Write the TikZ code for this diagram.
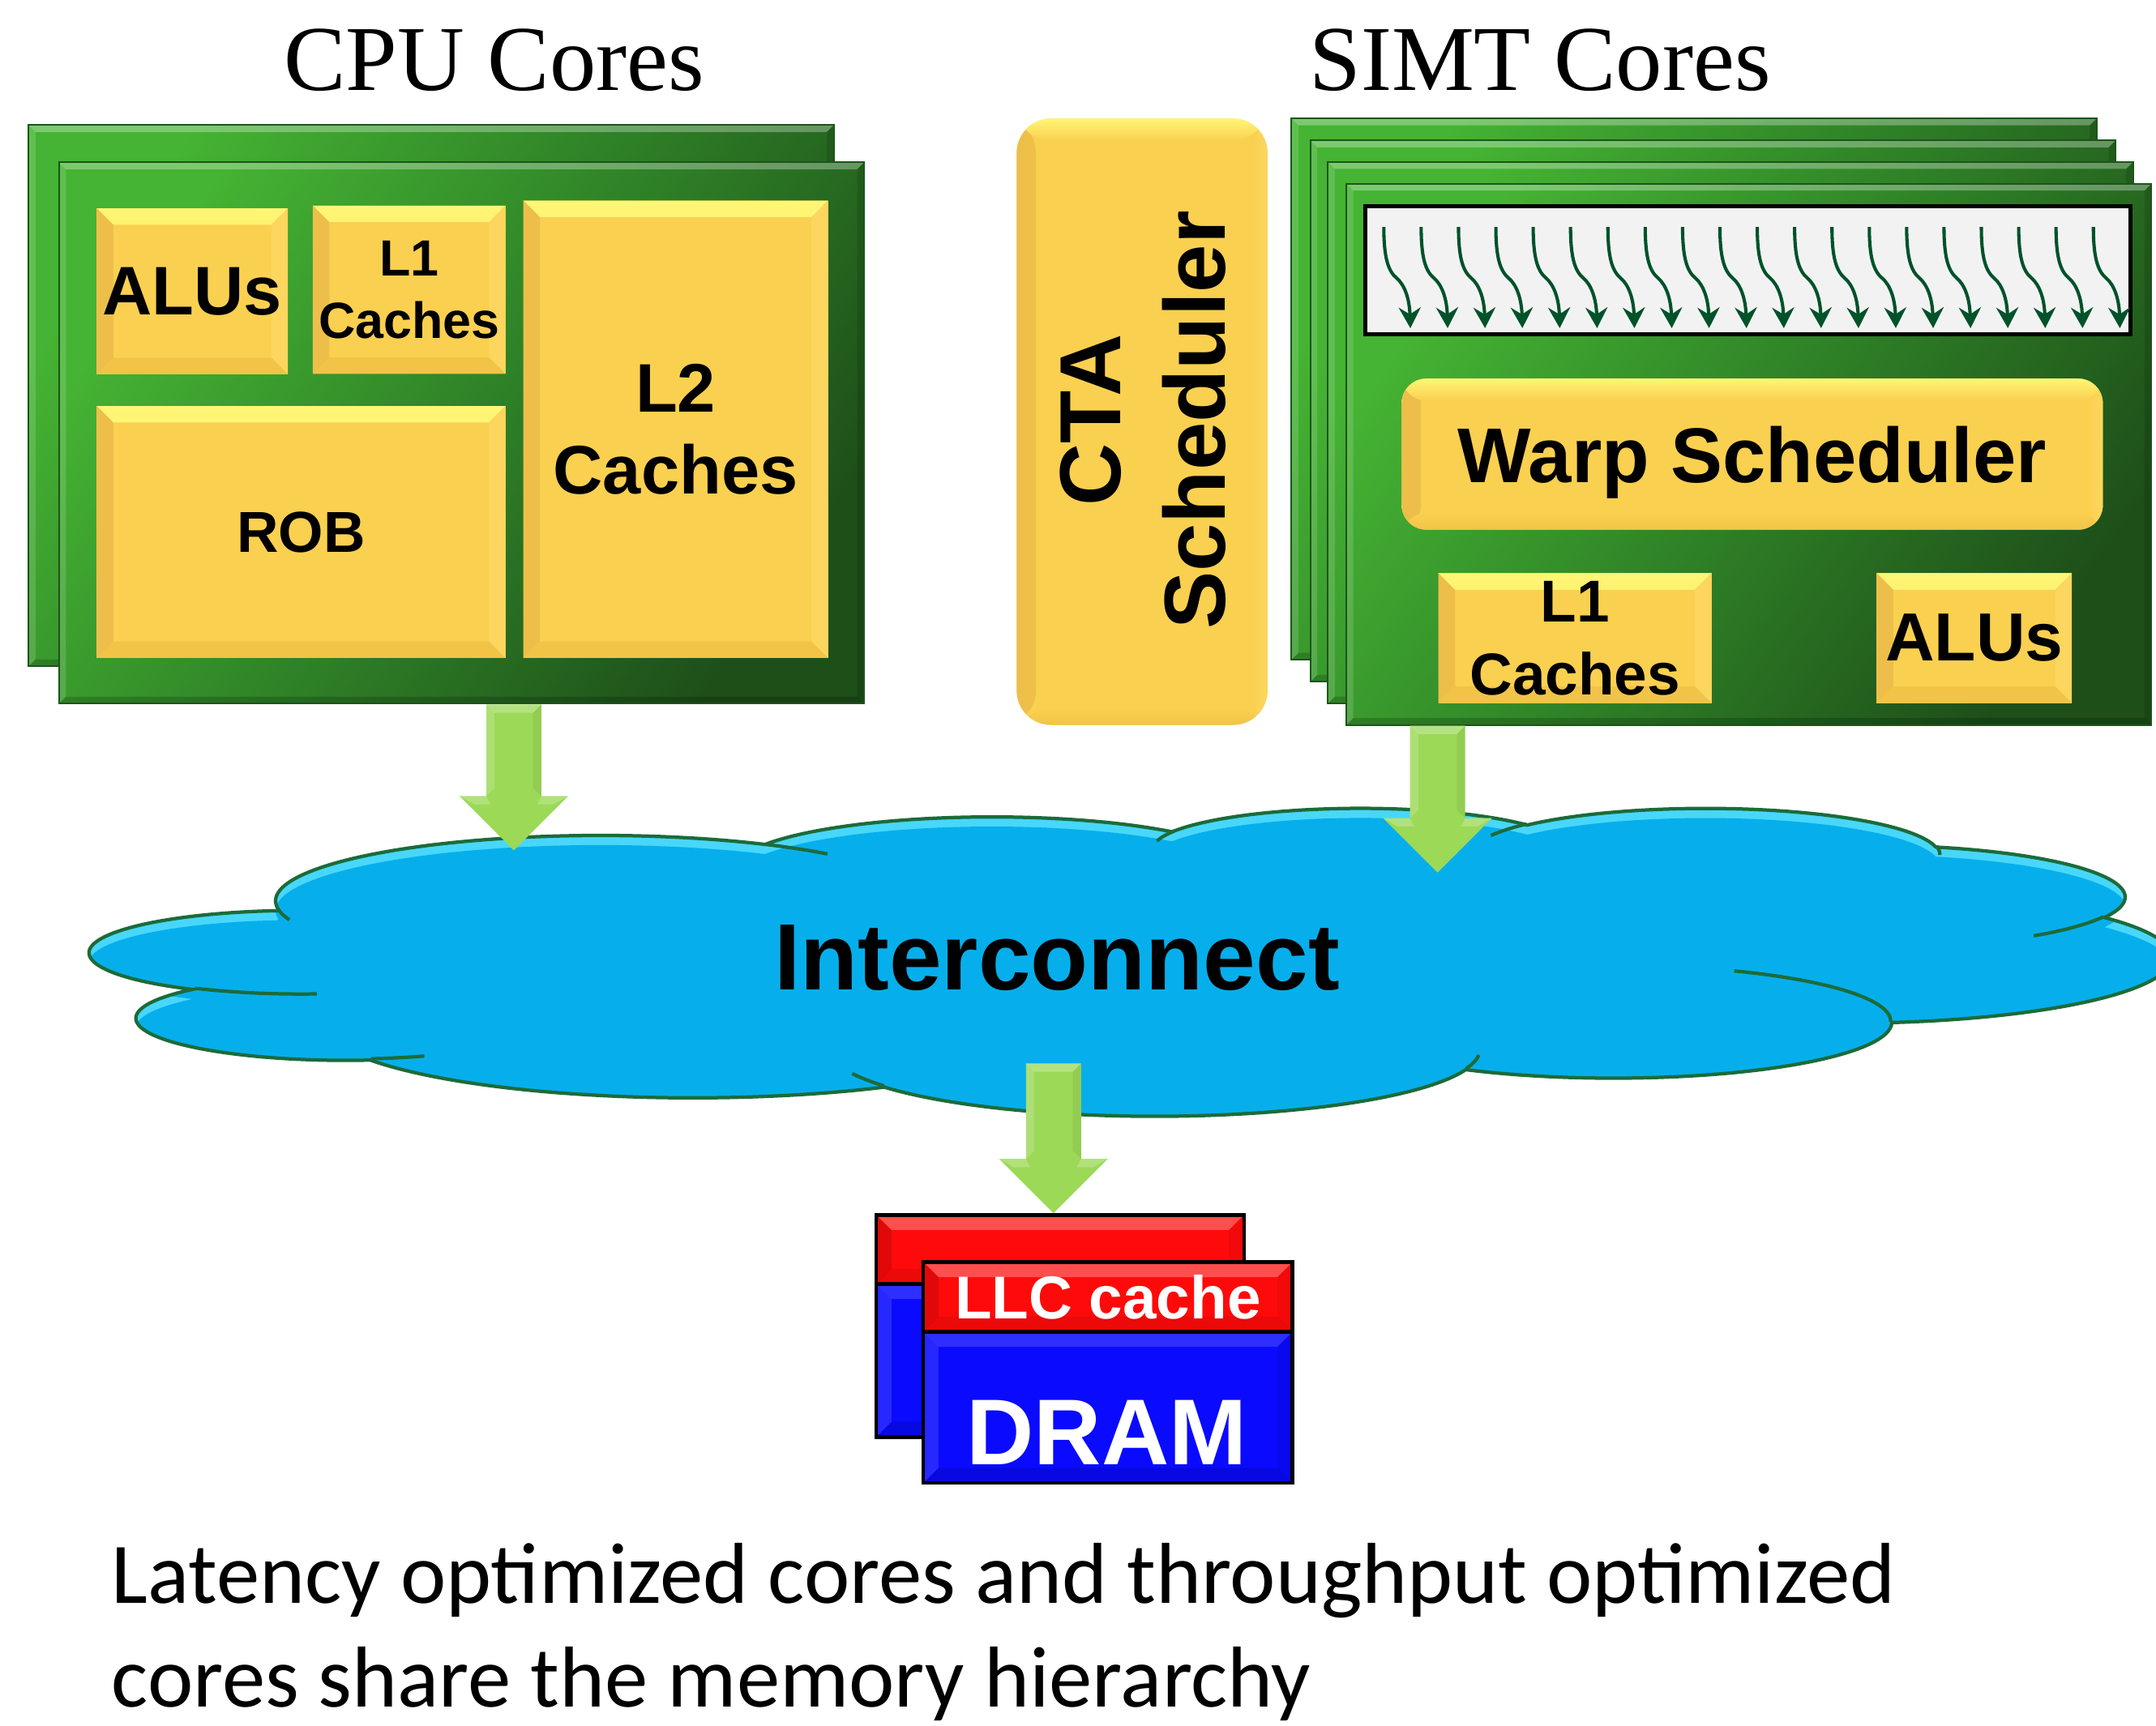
\documentclass[tikz,border=0pt]{standalone}
\usepackage{fontspec}
\setmainfont{Liberation Serif}
\newfontfamily\labelfont{Liberation Sans}
\newfontfamily\notefont{Carlito}
\usetikzlibrary{calc,arrows.meta}

\definecolor{coreTop}{HTML}{45B333}
\definecolor{coreMid}{HTML}{2F8227}
\definecolor{coreBot}{HTML}{1E4F19}
\definecolor{coreEdge}{HTML}{1B551A}
\definecolor{unitBase}{HTML}{FAD050}
\definecolor{unitHi}{HTML}{FFF675}
\definecolor{unitLeft}{HTML}{EDBF4A}
\definecolor{unitRight}{HTML}{FCD65E}
\definecolor{unitBot}{HTML}{F1C447}
\definecolor{flowGreen}{HTML}{9CD957}
\definecolor{netBlue}{HTML}{06AFEB}
\definecolor{netHi}{HTML}{48D7FA}
\definecolor{netEdge}{HTML}{1C6B3A}
\definecolor{threadGreen}{HTML}{00522A}
\definecolor{laneGray}{HTML}{F2F2F2}
\definecolor{memRed}{HTML}{FF0A0A}
\definecolor{memBlue}{HTML}{0A0AFF}

% four bevel faces inside a rectangular node: width, top, left, right, bottom
\newcommand\bevelfill[5]{%
  \fill[#2] (path picture bounding box.north west) -- (path picture bounding box.north east)
     -- ([xshift=-#1,yshift=-#1]path picture bounding box.north east)
     -- ([xshift=#1,yshift=-#1]path picture bounding box.north west) -- cycle;
  \fill[#3] (path picture bounding box.north west) -- ([xshift=#1,yshift=-#1]path picture bounding box.north west)
     -- ([xshift=#1,yshift=#1]path picture bounding box.south west) -- (path picture bounding box.south west) -- cycle;
  \fill[#4] (path picture bounding box.north east) -- ([xshift=-#1,yshift=-#1]path picture bounding box.north east)
     -- ([xshift=-#1,yshift=#1]path picture bounding box.south east) -- (path picture bounding box.south east) -- cycle;
  \fill[#5] (path picture bounding box.south west) -- ([xshift=#1,yshift=#1]path picture bounding box.south west)
     -- ([xshift=-#1,yshift=#1]path picture bounding box.south east) -- (path picture bounding box.south east) -- cycle;
}

% wide block arrow from a tail point to a tip point, with light left and top faces
\newcommand\blockarrow[2]{%
  \fill[flowGreen] ($(#1)+(-20,0)$) -- ($(#1)+(20,0)$) -- ($(#2)+(20,-39.5)$) -- ($(#2)+(39.5,-39.5)$)
     -- (#2) -- ($(#2)+(-39.5,-39.5)$) -- ($(#2)+(-20,-39.5)$) -- cycle;
  \fill[white, fill opacity=.18] ($(#1)+(-20,0)$) -- ($(#1)+(-14,6)$) -- ($(#2)+(-14,-45.5)$) -- ($(#2)+(-20,-39.5)$) -- cycle;
  \fill[white, fill opacity=.25] ($(#1)+(-20,0)$) -- ($(#1)+(20,0)$) -- ($(#1)+(14,6)$) -- ($(#1)+(-14,6)$) -- cycle;
  \fill[white, fill opacity=.22] ($(#2)+(-39.5,-39.5)$) -- ($(#2)+(-20,-39.5)$) -- ($(#2)+(-17,-33.5)$) -- ($(#2)+(-29,-33.5)$) -- cycle;
  \fill[white, fill opacity=.22] ($(#2)+(39.5,-39.5)$) -- ($(#2)+(20,-39.5)$) -- ($(#2)+(17,-33.5)$) -- ($(#2)+(29,-33.5)$) -- cycle;
  \fill[black, fill opacity=.06] ($(#1)+(20,0)$) -- ($(#1)+(14,6)$) -- ($(#2)+(14,-45.5)$) -- ($(#2)+(20,-39.5)$) -- cycle;
}

% cloud outline: elliptic arcs (radii, start angle, sweep) in a 4320 x 4320 frame
\newcommand\cloudoutline{(390,1437) \foreach \cra/\crb/\cst/\csw in {%
  675.3/919.0/-190.4875/123.7805, 533.3/726.7/-144.1024/89.9452,
  436.5/594.5/-145.8079/99.7230, 485.7/659.5/-130.9861/117.2417,
  533.3/727.3/-78.7089/109.0269, 677.5/922.0/-46.2673/130.2690,
  578.5/786.7/0.6250/114.0333, 675.2/921.5/22.4516/115.1726,
  772.0/1054.3/66.2426/75.7110, 436.0/591.8/-274.9421/146.7356,
  434.5/594.5/-246.8285/152.5189}{
  arc[x radius=\cra, y radius=\crb, start angle={vis(\cra,\crb,\cst)}, delta angle={dlt(\cra,\crb,\cst,\csw)}] } -- cycle}

% short creases where the lobes meet
\newcommand\cloudcreases{\foreach \cpx/\cpy/\cra/\crb/\cst/\csw in {%
  469.3/2617.7/434.5/594.5/86.7420/26.4295, 692.8/3489.9/436.0/591.8/73.6105/11.4475,
  1647.8/3909.0/675.2/921.5/137.6242/14.0811, 2882.7/3475.1/675.2/921.5/6.4533/15.9984,
  3412.9/2295.4/578.5/786.7/-70.2924/70.9174, 4179.8/1535.4/533.3/727.3/30.3180/27.7515,
  3832.4/542.6/485.7/659.5/-13.7443/14.8589, 2907.8/395.2/485.7/659.5/-149.1815/18.1954,
  2214.1/472.0/436.5/594.5/-163.4943/17.6864, 1400.0/519.2/675.3/919.0/-66.7070/12.3194,
  412.7/1578.9/675.3/919.0/157.6544/11.8582}{
  (\cpx,\cpy) arc[x radius=\cra, y radius=\crb, start angle={vis(\cra,\crb,\cst)}, delta angle={dlt(\cra,\crb,\cst,\csw)}] }}

\tikzset{
  fs/.style 2 args={font=\labelfont\bfseries\fontsize{#1}{#2}\selectfont},
  titletext/.style={font=\fontsize{67.5}{80}\selectfont, inner sep=0pt},
  notetext/.style={font=\notefont\fontsize{62.9}{75}\selectfont, inner sep=0pt},
  corebox/.style={anchor=north west, inner sep=0pt, minimum width=585.5pt, minimum height=393.8pt,
    draw=coreEdge, line width=1.2pt, top color=coreTop, bottom color=coreBot, middle color=coreMid,
    shading angle=55,
    path picture={\bevelfill{5pt}{white,fill opacity=.3}{white,fill opacity=.15}{black,fill opacity=.12}{black,fill opacity=.18}}},
  unitbox/.style={anchor=north west, inner sep=0pt, fill=unitBase, align=center,
    path picture={\bevelfill{12pt}{top color=unitHi,bottom color=unitBase}{unitLeft}{unitRight}{unitBot}}},
  unitround/.style={anchor=north west, inner sep=0pt, fill=unitBase, align=center, rounded corners=#1,
    path picture={
      \shade[left color=unitLeft, right color=unitBase] (path picture bounding box.north west) rectangle ([xshift=14pt]path picture bounding box.south west);
      \shade[left color=unitBase, right color=unitRight] ([xshift=-12pt]path picture bounding box.north east) rectangle (path picture bounding box.south east);
      \shade[top color=unitBase, bottom color=unitBot] ([yshift=12pt]path picture bounding box.south west) rectangle (path picture bounding box.south east);
      \shade[top color=unitHi, bottom color=unitBase] (path picture bounding box.north west) rectangle ([yshift=-16pt]path picture bounding box.north east);}},
  redbox/.style={anchor=north west, inner sep=0pt, fill=memRed, draw=black, line width=2.6pt,
    path picture={\bevelfill{11pt}{white,fill opacity=.28}{black,fill opacity=.12}{black,fill opacity=.05}{black,fill opacity=.08}}},
  bluebox/.style={anchor=north west, inner sep=0pt, fill=memBlue, draw=black, line width=2.6pt,
    path picture={\bevelfill{11pt}{white,fill opacity=.15}{white,fill opacity=.12}{black,fill opacity=.08}{black,fill opacity=.12}}},
  threadarrow/.style={draw=threadGreen, line width=2.4pt, -{Stealth[length=15pt,width=16pt,inset=5pt]}},
  crease/.style={draw=netEdge, line width=2.5pt},
}

\begin{document}
\begin{tikzpicture}[x=1pt, y=-1pt,
  declare function={vis(\pa,\pb,\pt)=atan2(\pa*sin(\pt),\pb*cos(\pt));
                    dlt(\pa,\pb,\ps,\pw)=mod(vis(\pa,\pb,\ps+\pw)-vis(\pa,\pb,\ps)+720,360);}]
\useasboundingbox (0,0) rectangle (1568,1255);
\fill[white] (0,0) rectangle (1568,1255);

% ---------- titles ----------
\node[titletext, anchor=base] (cpuTitle) at (359.5,66) {CPU Cores};
\node[titletext, anchor=base] (simtTitle) at (1120,66) {SIMT Cores};

% ---------- CPU cores ----------
\node[corebox] (cpuBack) at (20.2,90.4) {};
\node[corebox] (cpuFront) at (42.3,117.5) {};
\node[unitbox, minimum width=139pt, minimum height=120.8pt, fs={50}{60}] (cpuAlu) at (70.2,151.3) {ALUs};
\node[unitbox, minimum width=140.1pt, minimum height=122.4pt, fs={37}{45}] (cpuL1) at (227.3,149.4) {L1\\Caches};
\node[unitbox, minimum width=221.6pt, minimum height=332.7pt, fs={50}{59.2}] (cpuL2) at (380.4,145.7) {L2\\Caches};
\node[unitbox, minimum width=297.2pt, minimum height=183.2pt, fs={42}{50}] (cpuRob) at (70.2,295.2) {ROB};

% ---------- CTA scheduler ----------
\node[unitround=25pt, minimum width=182.4pt, minimum height=441pt] (cta) at (739.2,86.1) {};
\node[rotate=90, align=center, fs={63}{75.8}] (ctaText) at (831.2,305.6) {CTA\\Scheduler};

% ---------- SIMT cores ----------
\node[corebox] (simt1) at (938.7,85.5) {};
\node[corebox] (simt2) at (952.4,101.6) {};
\node[corebox] (simt3) at (965.2,117.3) {};
\node[corebox] (simt4) at (978.6,133.0) {};
\node[anchor=north west, draw=black, line width=3pt, fill=laneGray, minimum width=556pt, minimum height=93.2pt] (lanes) at (991.7,148.4) {};
\foreach \k in {0,...,19}{
  \draw[threadarrow, shift={($(lanes.north west)+(14.7+27.16*\k,16.7)$)}]
    (0,0) .. controls (0,22) and (3,32) .. (9.4,37.3) .. controls (15,42) and (18.7,52) .. (19.3,73.6);
}
\node[unitround=18pt, minimum width=509.9pt, minimum height=109.9pt, fs={56.5}{68}, text depth=0pt] (warp) at (1019.2,275.2) {Warp Scheduler};
\node[unitbox, minimum width=198.6pt, minimum height=94.4pt, fs={43}{52.8}] (simtL1) at (1045.9,416.8) {L1\\Caches};
\node[unitbox, minimum width=141.9pt, minimum height=94.4pt, fs={49.5}{60}] (simtAlu) at (1364.7,416.8) {ALUs};

% ---------- interconnect cloud ----------
\begin{scope}[shift={(66,587.3)}, x=0.3502pt, y=-0.05183pt]
  \fill[netHi] \cloudoutline;
  \begin{scope}
    \clip \cloudoutline;
    \fill[netBlue, yshift=-7pt] \cloudoutline;
  \end{scope}
  \draw[netEdge, line width=2.5pt] \cloudoutline;
  \draw[crease] \cloudcreases;
\end{scope}
\node[fs={68.5}{80}] (interconnect) at (768.7,696.8) {Interconnect};

% ---------- memory ----------
\node[redbox, minimum width=267.4pt, minimum height=50.2pt] (llcBack) at (636,882.5) {};
\node[bluebox, minimum width=267.4pt, minimum height=111.3pt] (dramBack) at (636,932.7) {};
\node[redbox, minimum width=268.5pt, minimum height=50.7pt, fs={44}{50}, text=white] (llc) at (670.2,916.7) {LLC cache};
\node[bluebox, minimum width=268.5pt, minimum height=110.1pt] (dram) at (670.2,967.4) {};
\node[fs={68}{80}, text=white, anchor=base, inner sep=0pt] (dramText) at (805,1065.5) {DRAM};

% ---------- block arrows ----------
\coordinate (cpuTip) at (373.7,618.6);
\coordinate (cpuTail) at (cpuTip |- cpuFront.south);
\blockarrow{cpuTail}{cpuTip}
\coordinate (simtTip) at (1045.5,634.7);
\coordinate (simtTail) at (simtTip |- simt4.south);
\blockarrow{simtTail}{simtTip}
\coordinate (memTail) at (766.2,773.6);
\coordinate (memTip) at (memTail |- llcBack.north);
\blockarrow{memTail}{memTip}

% ---------- caption ----------
\node[notetext, anchor=base west] (note1) at (81,1166.2) {Latency optimized cores and throughput optimized};
\node[notetext, anchor=base west] (note2) at (81,1241.5) {cores share the memory hierarchy};
\end{tikzpicture}
\end{document}
